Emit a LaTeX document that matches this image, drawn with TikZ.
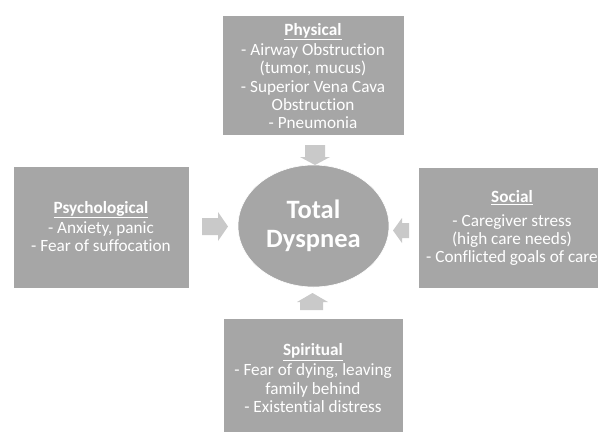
\documentclass[tikz,border=0pt]{standalone}
\usepackage{fontspec}
\setmainfont[Ligatures=NoCommon]{Carlito}
\usetikzlibrary{shapes.geometric}
\definecolor{boxgray}{HTML}{A6A6A6}
\definecolor{arrgray}{HTML}{C9C9C9}
\newcommand{\hdr}[1]{\underline{\textbf{#1}}}
\tikzset{
  catbox/.style={fill=boxgray, draw=white, line width=0.6pt, inner sep=0pt, anchor=north west},
  cattext/.style={text=white, align=center, font=\fontsize{17.2}{18.2}\selectfont, inner sep=0pt},
  blockarrow/.style={fill=arrgray, draw=none},
  centre/.style={ellipse, fill=boxgray, draw=white, line width=0.6pt, inner sep=0pt,
    text=white, align=center, font=\bfseries\fontsize{26.5}{28.5}\selectfont}
}
\begin{document}
\begin{tikzpicture}[x=1pt,y=-1pt]
\useasboundingbox (0,0) rectangle (598,432);
% boxes
\node[catbox, minimum width=182pt, minimum height=120pt] (phys) at (222,15) {};
\node[catbox, minimum width=176pt, minimum height=122pt] (psych) at (13,166) {};
\node[catbox, minimum width=190pt, minimum height=121pt] (soc) at (418,167) {};
\node[catbox, minimum width=180pt, minimum height=114pt] (spir) at (223,318) {};
% texts
\node[cattext] (phystext) at (313,76) {\hdr{Physical}\\[2pt]- Airway Obstruction\\(tumor, mucus)\\- Superior Vena Cava\\Obstruction\\- Pneumonia};
\node[cattext] (psychtext) at (101,226.5) {\hdr{Psychological}\\[2pt]- Anxiety, panic\\- Fear of suffocation};
\node[cattext] (soctext) at (512,228) {\hdr{Social}\\[6pt]- Caregiver stress\\(high care needs)\\- Conflicted goals of care};
\node[cattext] (spirtext) at (313,378) {\hdr{Spiritual}\\[2pt]- Fear of dying, leaving\\family behind\\- Existential distress};
% centre
\node[centre, minimum width=151pt, minimum height=122pt] (total) at (313.5,226) {Total\\Dyspnea};
% block arrows
\fill[blockarrow] (305,145) -- (325,145) -- (325,157) -- (330,157) -- (315,165) -- (300,157) -- (305,157) -- cycle;
\fill[blockarrow] (202,218) -- (218,218) -- (218,212) -- (228,226.5) -- (218,241) -- (218,235) -- (202,235) -- cycle;
\fill[blockarrow] (409,223) -- (402,223) -- (402,218) -- (393,230.5) -- (402,243) -- (402,238) -- (409,238) -- cycle;
\fill[blockarrow] (300,310) -- (323,310) -- (323,302) -- (328,302) -- (312.5,293) -- (297,302) -- (300,302) -- cycle;
\end{tikzpicture}
\end{document}
